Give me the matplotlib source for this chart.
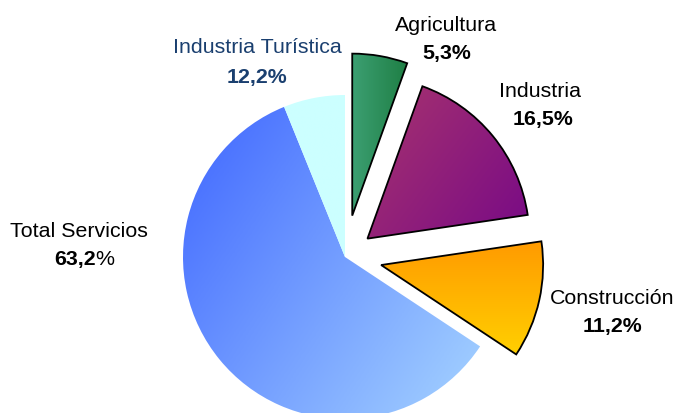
import numpy as np
import matplotlib.pyplot as plt
from matplotlib.colors import LinearSegmentedColormap

plt.rcParams['font.family'] = ['Liberation Sans', 'DejaVu Sans']

# sectores en el orden de la tarta (sentido horario desde arriba)
sectores = ["Agricultura", "Industria", "Construcción", "Total Servicios", "Industria Turística"]
# tamaño de cada porción (servicios sin turismo + turismo = 63,2)
valores = [5.3, 16.5, 11.2, 57.3, 5.9]
textos_pct = ["5,3%", "16,5%", "11,2%", "63,2", "12,2%"]

# desplazamiento de las porciones separadas (en píxeles)
separacion = [42, 29, 37, 0, 0]
colores = [
    ("#3c9f72", "#1f7f45", 0),      # verde, izquierda -> derecha
    ("#a8346e", "#780a86", -35),    # morado
    ("#ff9a00", "#ffcf00", -90),    # naranja, arriba -> abajo
    ("#3f66ff", "#a6d4ff", -35),    # azul
    ("#ccffff", "#ccffff", 0),      # cian
]
con_borde = [True, True, True, False, False]

fig = plt.figure(figsize=(6.75, 4.14), dpi=100)
ax = fig.add_axes([0, 0, 1, 1])

H = 414
wedges, _ = ax.pie(valores, explode=separacion, startangle=90, counterclock=False,
                   center=(345, H - 258), radius=162, frame=True)


def degradado(w, c1, c2, ang):
    x0, y0, x1, y1 = w.get_path().get_extents().extents
    n = 200
    X, Y = np.meshgrid(np.linspace(0, 1, n), np.linspace(0, 1, n))
    a = np.deg2rad(ang)
    t = X * np.cos(a) + Y * np.sin(a)
    t = (t - t.min()) / (t.max() - t.min())
    cmap = LinearSegmentedColormap.from_list("g", [c1, c2])
    im = ax.imshow(t, cmap=cmap, origin="lower", extent=[x0, x1, y0, y1],
                   interpolation="bilinear", zorder=1, aspect="auto")
    im.set_clip_path(w)


for w, (c1, c2, ang), borde in zip(wedges, colores, con_borde):
    degradado(w, c1, c2, ang)
    w.set_facecolor("none")
    w.set_zorder(2)
    if borde:
        w.set_edgecolor("black")
        w.set_linewidth(1.3)
    else:
        w.set_edgecolor("none")

ax.set_xlim(0, 675)
ax.set_ylim(0, H)
ax.axis("off")

fs = 15.4
# etiquetas (x, y de la línea de base en píxeles desde arriba)
pos = [(446, 31, 447, 59), (540, 97, 543, 125), (612, 304, 612, 332),
       (79, 237, 79, 265), (257, 53, 257, 83)]
for i, (x1, y1, x2, y2) in enumerate(pos):
    col = "#1a3f6f" if i == 4 else "black"
    ax.text(x1, H - y1, sectores[i], fontsize=fs, ha="center", va="baseline", color=col)
    if i == 3:
        ax.text(96, H - y2, textos_pct[i], fontsize=fs, ha="right", va="baseline",
                fontweight="bold", color=col)
        ax.text(95, H - y2, "%", fontsize=fs, ha="left", va="baseline", color=col)
    else:
        ax.text(x2, H - y2, textos_pct[i], fontsize=fs, ha="center", va="baseline",
                fontweight="bold", color=col)

fig.savefig("out.png", dpi=100)
